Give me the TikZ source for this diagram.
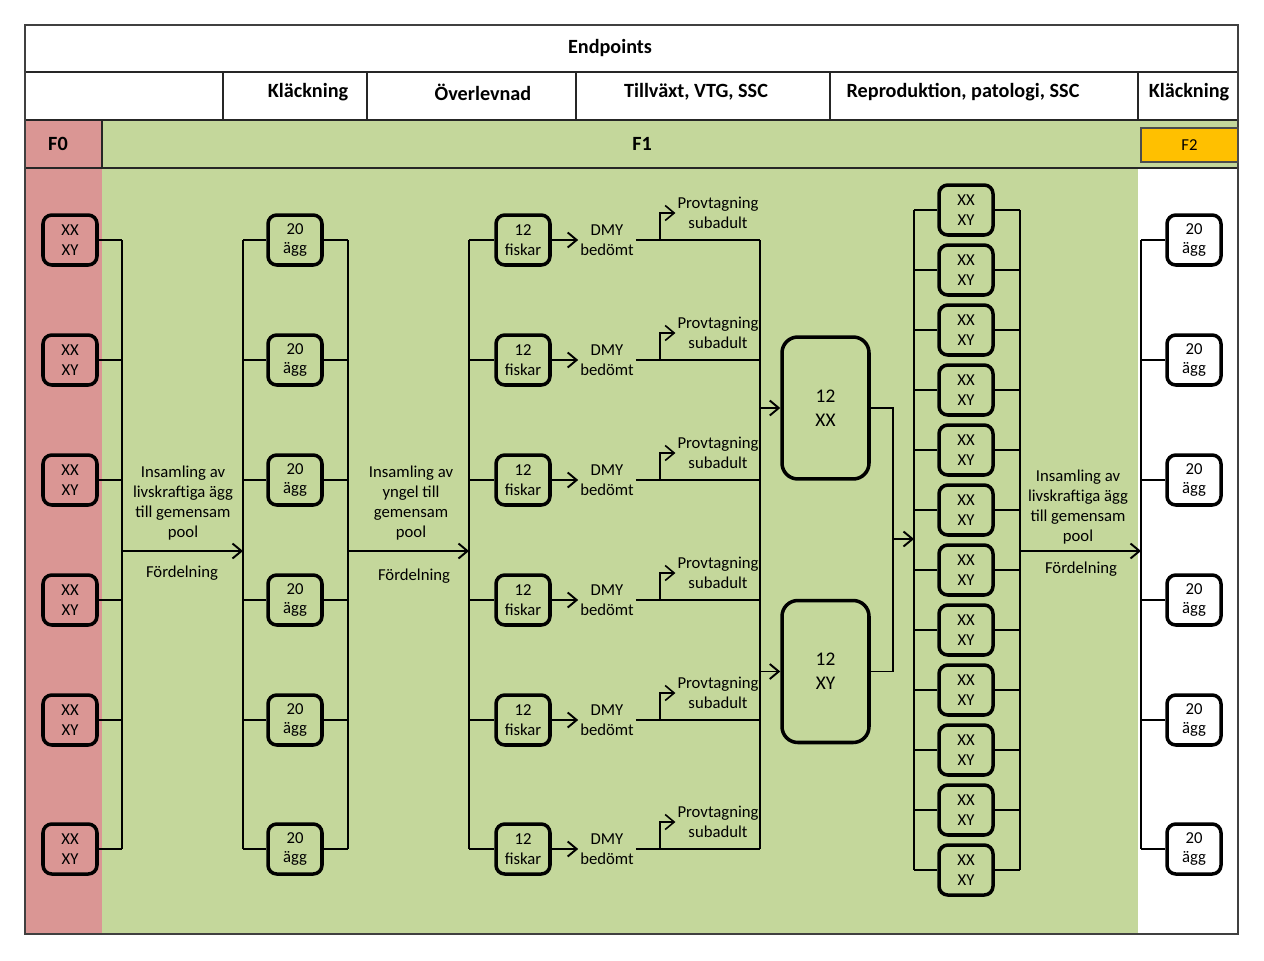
\documentclass[tikz,border=0pt]{standalone}
\usepackage{fontspec}
\setmainfont{Carlito}
\usetikzlibrary{arrows.meta}
\definecolor{fzero}{RGB}{218,150,148}
\definecolor{fone}{RGB}{196,215,155}
\definecolor{ftwo}{RGB}{255,192,0}
\begin{document}
\begin{tikzpicture}[x=0.02cm,y=-0.02cm,
  box/.style={draw, line width=2pt, rounded corners=5pt, minimum width=1.08cm, minimum height=1.0cm, align=center, inner sep=0pt, font=\fontsize{9.5}{11.3}\selectfont},
  wbox/.style={box, fill=white},
  bigbox/.style={box, minimum width=1.74cm, minimum height=2.84cm, rounded corners=9pt, font=\fontsize{11}{13.5}\selectfont},
  lbl/.style={align=center, inner sep=1pt, font=\fontsize{9.5}{11.3}\selectfont},
  hdr/.style={font=\bfseries\fontsize{11.5}{13.5}\selectfont},
  rule/.style={line width=0.9pt, black!85},
  wire/.style={line width=0.8pt},
  arr/.style={line width=1.1pt, -{Straight Barb[length=1.8mm,width=3mm]}},
  sarr/.style={line width=0.9pt, -{Straight Barb[length=1.8mm,width=3mm]}},
  f2box/.style={draw=black!70, line width=0.6pt, fill=ftwo, minimum width=1.94cm, minimum height=0.68cm, inner sep=0pt, font=\fontsize{9.5}{11}\selectfont}
]
\useasboundingbox (0,0) rectangle (1264,960);
% backgrounds
\fill[white] (0,0) rectangle (1264,960);
\fill[fzero] (25,120) rectangle (102,934);
\fill[fone] (102,120) rectangle (1238,168);
\fill[fone] (102,168) rectangle (1138,934);
% table rules
\draw[rule] (25,72) -- (1238,72);
\draw[rule] (25,120) -- (1238,120);
\draw[rule] (25,168) -- (1238,168);
\foreach \x in {223,367,576,830,1138} \draw[rule] (\x,72) -- (\x,120);
\draw[rule] (102,120) -- (102,168);
\draw[line width=0.8pt, black!75] (25,25) rectangle (1238,934);
% headers
\node[hdr] (endp) at (610,48) {Endpoints};
\node[hdr] (hk1) at (308,92) {Kläckning};
\node[hdr] (hov) at (483,92) {Överlevnad};
\node[hdr] (htv) at (696,92) {Tillväxt, VTG, SSC};
\node[hdr] (hrp) at (963,92) {Reproduktion, patologi, SSC};
\node[hdr] (hk2) at (1189,92) {Kläckning};
\node[hdr] (f0) at (58,144) {F0};
\node[hdr] (f1) at (642,144) {F1};
\node[f2box] (f2) at (1189.5,145) {F2};
% bus coordinates
\coordinate (busA) at (122,551);
\coordinate (busB) at (243,551);
\coordinate (busC) at (348,551);
\coordinate (busD) at (469,551);
\coordinate (busE) at (760,551);
\coordinate (busF) at (893,539);
\coordinate (busG) at (914,539);
\coordinate (busH) at (1020,551);
\coordinate (busI) at (1141,551);
% rows
\foreach \y [count=\i] in {240,360,480,600,720,849} {
  \node[box] (a\i) at (70,\y) {XX\\XY};
  \node[box] (e\i) at (295,\y) {20\\ägg};
  \node[box] (fi\i) at (523,\y) {12\\fiskar};
  \node[lbl] (d\i) at (607,\y) {DMY\\bedömt};
  \node[lbl] (p\i) at (718,{\y-27}) {Provtagning\\subadult};
  \coordinate (k\i) at (660,\y);
  \node[wbox] (h\i) at (1194,\y) {20\\ägg};
  \draw[wire] (a\i.east) -- (busA |- a\i.east);
  \draw[wire] (busB |- e\i.west) -- (e\i.west);
  \draw[wire] (e\i.east) -- (busC |- e\i.east);
  \draw[wire] (busD |- fi\i.west) -- (fi\i.west);
  \draw[arr] (fi\i.east) -- (d\i.west);
  \draw[wire] (d\i.east) -- (busE |- d\i.east);
  \draw[sarr] (k\i) |- (p\i.west);
  \draw[wire] (busI |- h\i.west) -- (h\i.west);
}
\draw[wire] (busA |- a1.east) -- (busA |- a6.east);
\draw[wire] (busB |- e1.west) -- (busB |- e6.west);
\draw[wire] (busC |- e1.east) -- (busC |- e6.east);
\draw[wire] (busD |- fi1.west) -- (busD |- fi6.west);
\draw[wire] (busE |- d1.east) -- (busE |- d6.east);
\draw[wire] (busI |- h1.west) -- (busI |- h6.west);
\draw[arr] (busA) -- (busB);
\draw[arr] (busC) -- (busD);
% big boxes
\node[bigbox] (xx) at (825.5,408) {12\\XX};
\node[bigbox] (xy) at (825.5,671.5) {12\\XY};
\draw[arr] (busE |- xx.west) -- (xx.west);
\draw[arr] (busE |- xy.west) -- (xy.west);
\draw[wire] (xx.east) -| (busF);
\draw[wire] (xy.east) -| (busF);
\draw[arr] (busF) -- (busG);
% F1 breeding pairs
\foreach \i in {1,...,12} {
  \node[box] (g\i) at (966,{150+60*\i}) {XX\\XY};
  \draw[wire] (busG |- g\i.west) -- (g\i.west);
  \draw[wire] (g\i.east) -- (busH |- g\i.east);
}
\draw[wire] (busG |- g1.west) -- (busG |- g12.west);
\draw[wire] (busH |- g1.east) -- (busH |- g12.east);
\draw[arr] (busH) -- (busI);
% labels
\node[lbl] (t1) at (183,503) {Insamling av\\livskraftiga ägg\\till gemensam\\pool};
\node[lbl] (t1b) at (182,573) {Fördelning};
\node[lbl] (t2) at (411,503) {Insamling av\\yngel till\\gemensam\\pool};
\node[lbl] (t2b) at (414,576) {Fördelning};
\node[lbl] (t3) at (1078,507) {Insamling av\\livskraftiga ägg\\till gemensam\\pool};
\node[lbl] (t3b) at (1081,569) {Fördelning};
\end{tikzpicture}
\end{document}
